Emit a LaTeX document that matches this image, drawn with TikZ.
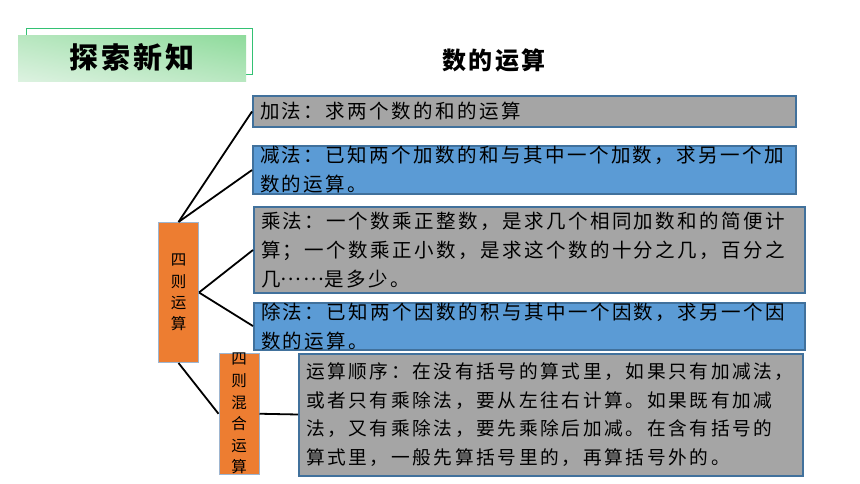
\documentclass[tikz,border=0pt]{standalone}
\usepackage{fontspec}
\usetikzlibrary{shadings}
\newfontfamily\cjk{Noto Sans CJK SC}[LetterSpace=12.5]
\newfontfamily\cjkf{Noto Sans CJK SC}[LetterSpace=14]
\newfontfamily\cjkt{Noto Sans CJK SC}[LetterSpace=10]
\newfontfamily\cjkv{Noto Sans CJK SC}
\newcommand\dotsmid{\raisebox{0.3em}{……}}
\definecolor{boxgray}{HTML}{A5A5A5}
\definecolor{boxblue}{HTML}{5B9BD5}
\definecolor{boxedge}{HTML}{41719C}
\definecolor{orangefill}{HTML}{ED7D31}
\definecolor{orangeedge}{HTML}{9DB5D0}
\definecolor{greenedge}{HTML}{33C173}
\definecolor{gA}{HTML}{DDF2E1}
\definecolor{gB}{HTML}{8FDB9C}
\definecolor{gC}{HTML}{B8E7C0}
\tikzset{
  infobox/.style={draw=boxedge, line width=2pt, anchor=north west, inner xsep=7pt, inner ysep=0pt,
    align=left, font=\cjk\fontsize{19.5pt}{29pt}\selectfont, text=black},
  orangebox/.style={draw=orangeedge, line width=1pt, fill=orangefill, anchor=north west,
    minimum width=40pt, inner sep=0pt, align=center,
    font=\cjkv\fontsize{15.5pt}{21.3pt}\selectfont},
  link/.style={line width=1.8pt, black}
}
\begin{document}
\begin{tikzpicture}[x=1pt,y=-1pt]
\useasboundingbox (0,0) rectangle (860,484);
\fill[white] (0,0) rectangle (860,484);
% title banner
\draw[greenedge, line width=1pt] (26.3,28.3) rectangle (252.7,75);
\shade[lower left=gA, upper right=gB, upper left=gC, lower right=gC] (18,36) rectangle (246,81.7);
\node[font=\cjkt\bfseries\fontsize{29pt}{30pt}\selectfont] (banner) at (132,57) {探索新知};
\node[font=\cjkt\bfseries\fontsize{24pt}{26pt}\selectfont] (title) at (494,60) {数的运算};
% boxes
\node[infobox, fill=boxgray, minimum width=543pt, minimum height=31pt, text width=529pt] (b1) at (252,95)
  {加法：求两个数的和的运算};
\node[infobox, fill=boxblue, minimum width=543pt, minimum height=46pt, text width=529pt] (b2) at (252,145.5)
  {减法：已知两个加数的和与其中一个加数，求另一个加\\数的运算。};
\node[infobox, fill=boxgray, minimum width=551pt, minimum height=86pt, text width=537pt] (b3) at (253,206)
  {乘法：一个数乘正整数，是求几个相同加数和的简便计\\算；一个数乘正小数，是求这个数的十分之几，百分之\\几\dotsmid 是多少。};
\node[infobox, fill=boxblue, minimum width=551pt, minimum height=46.5pt, text width=537pt] (b4) at (253,301.5)
  {除法：已知两个因数的积与其中一个因数，求另一个因\\数的运算。};
\node[infobox, fill=boxgray, minimum width=504pt, minimum height=122pt, text width=490pt,
  font=\cjkf\fontsize{18.7pt}{28.5pt}\selectfont] (b5) at (298,352.5)
  {运算顺序：在没有括号的算式里，如果只有加减法，\\或者只有乘除法，要从左往右计算。如果既有加减\\法，又有乘除法，要先乘除后加减。在含有括号的\\算式里，一般先算括号里的，再算括号外的。};
% orange boxes
\node[orangebox, minimum height=140pt] (o1) at (158,222) {四\\则\\运\\算};
\node[orangebox, minimum height=121.5pt, font=\cjkv\fontsize{15.5pt}{21.6pt}\selectfont] (o2) at (218.5,352.5) {四\\则\\混\\合\\运\\算};
% connectors
\draw[link] (o1.north) -- (b1.west);
\draw[link] (o1.north) -- (b2.west);
\draw[link] (o1.east) -- (b3.west);
\draw[link] (o1.east) -- (b4.west);
\draw[link] (o1.south) -- (o2.west);
\draw[link] (o2.east) -- (b5.west);
\end{tikzpicture}
\end{document}
